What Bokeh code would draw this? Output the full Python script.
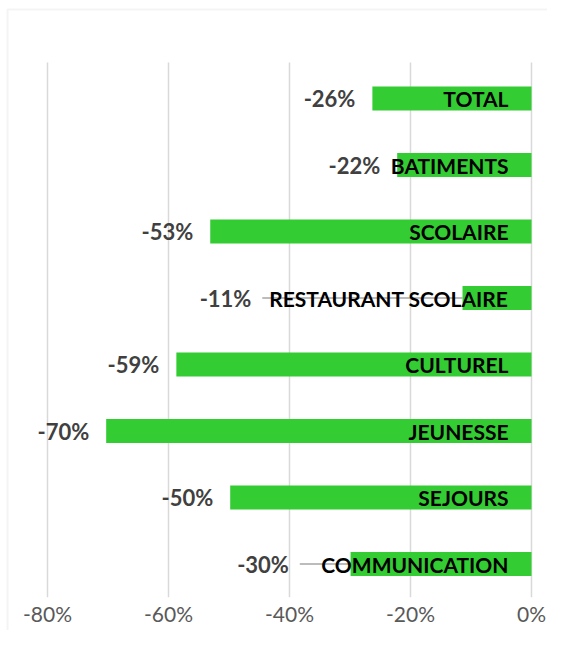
from bokeh.plotting import figure
from bokeh.models import Range1d, ColumnDataSource, BoxAnnotation
from bokeh.core.properties import value
from bokeh.embed import file_html
from bokeh.resources import INLINE

# ---- data ----
categories = ["TOTAL", "BATIMENTS", "SCOLAIRE", "RESTAURANT SCOLAIRE",
              "CULTUREL", "JEUNESSE", "SEJOURS", "COMMUNICATION"]
changes = [-26.3, -22.2, -53.1, -11.4, -58.7, -70.3, -49.8, -29.9]   # percent
tick_values = [-80, -60, -40, -20, 0]
tick_labels = ["-80%", "-60%", "-40%", "-20%", "0%"]

# value labels moved away from the bar end (with leader lines), in axis units
moved_labels = {"RESTAURANT SCOLAIRE": -46.3, "COMMUNICATION": -40.1}

FONT = "Lato"
GREEN = "#33CC33"
GRID = "#D9D9D9"

n = len(categories)
pos = list(range(n))                      # category slot, 0 = top
val_text = [f"{round(v)}%" for v in changes]
lab_x = [moved_labels.get(c, v) for c, v in zip(categories, changes)]
lab_off = [0 if c in moved_labels else -17 for c in categories]

src = ColumnDataSource(dict(y=pos, cat=categories, val=changes, vtxt=val_text,
                            lx=lab_x, lxo=lab_off))

lead_idx = [i for i, c in enumerate(categories) if c in moved_labels]
lead_src = ColumnDataSource(dict(
    y=[pos[i] for i in lead_idx],
    x0=[moved_labels[categories[i]] + 1.8 for i in lead_idx],
    x1=[changes[i] for i in lead_idx],
))

grid_src = ColumnDataSource(dict(x=tick_values, y0=[-0.54] * len(tick_values),
                                 y1=[n - 0.5] * len(tick_values)))
tick_src = ColumnDataSource(dict(x=tick_values, t=tick_labels,
                                 y=[n - 0.26] * len(tick_values)))

x_range = Range1d(-87.769, 2.645)
y_range = Range1d(8.0, -1.4737)          # flipped: first category at the top

p = figure(width=547, height=630, x_range=x_range, y_range=y_range,
           output_backend="svg", toolbar_location=None,
           min_border=0, min_border_left=0, min_border_right=0,
           min_border_top=0, min_border_bottom=0)

p.title.visible = False
p.xaxis.visible = False
p.yaxis.visible = False
p.xgrid.visible = False
p.ygrid.visible = False
p.outline_line_color = None
p.background_fill_color = "white"
p.border_fill_color = "white"

# chart border (left and top edges visible)
p.add_layout(BoxAnnotation(left=-86.61, right=10, top=-1.34, bottom=20,
                           fill_color=None, line_color=GRID, line_width=2))

# vertical grid lines and tick labels
p.segment(x0="x", y0="y0", x1="x", y1="y1", source=grid_src,
          line_color=GRID, line_width=1.5)
p.text(x="x", y="y", text="t", source=tick_src,
       text_align="center", text_baseline="middle",
       text_font=value(FONT), text_font_size="21px", text_color="#595959")

# leader lines
p.segment(x0="x0", y0="y", x1="x1", y1="y", source=lead_src,
          line_color="#A6A6A6", line_width=1.5)

# bars
p.hbar(y="y", left="val", right=0, height=0.36, source=src,
       fill_color=GREEN, line_color=None)

# category labels
p.text(x=0, y="y", text="cat", source=src, x_offset=-23,
       text_align="right", text_baseline="middle",
       text_font=value(FONT), text_font_style="bold",
       text_font_size="21px", text_color="black")

# value labels
p.text(x="lx", y="y", text="vtxt", source=src, x_offset="lxo",
       text_align="right", text_baseline="middle",
       text_font=value(FONT), text_font_style="bold",
       text_font_size="22px", text_color="#404040")

open("out.html", "w").write(file_html(p, INLINE))
